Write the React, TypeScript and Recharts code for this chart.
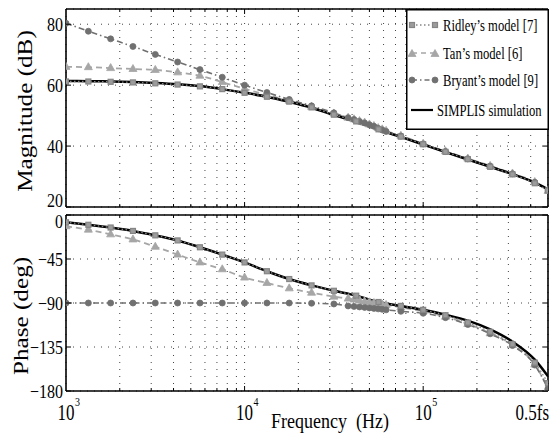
import React from 'react';
import { LineChart, Line, XAxis, YAxis, CartesianGrid, Legend } from 'recharts';

// ---------- data ----------
const FREQ = [1000, 1334, 1778, 2371, 3162, 4217, 5623, 7499, 10000, 13335, 17783, 23714, 31623, 42170, 56234, 74989, 100000, 133352, 177828, 237137, 316228, 421697, 500000];
const DENSE_FREQ = [1000, 1334, 1778, 2371, 3162, 4217, 5623, 7499, 10000, 13335, 17783, 23714, 31623, 38000, 41000, 44000, 47000, 50000, 53000, 56000, 59000, 62000, 74989, 100000, 133352, 177828, 237137, 316228, 421697, 500000];

const SIMPLIS_MAG = [61.4, 61.3, 61.2, 61.0, 60.7, 60.3, 59.7, 58.7, 57.5, 56.2, 54.5, 52.6, 50.2, 48.0, 45.4, 43.0, 40.5, 38.0, 35.6, 33.2, 30.8, 28.0, 25.8];
const SIMPLIS_PHASE = [-7.5, -10, -12.8, -16.3, -20.8, -26, -33, -40.5, -48.5, -57.5, -65.5, -72, -77.5, -82.5, -89, -93, -97, -102, -108, -117, -129.5, -148, -165];

const RIDLEY_MAG = [61.2, 61.2, 61.1, 60.9, 60.6, 60.2, 59.6, 58.7, 57.5, 56.2, 54.6, 52.7, 50.3, 48.1, 45.5, 43.1, 40.6, 38.1, 35.7, 33.2, 30.7, 27.8, 25.4];
const RIDLEY_PHASE = [-7.5, -10, -12.8, -16.3, -20.8, -26, -33, -40.5, -48.5, -57.5, -65.5, -72, -77.5, -82.5, -89, -93, -97, -102.5, -110, -119.5, -132, -151, -172];

const TAN_MAG = [66, 65.9, 65.6, 65.3, 65, 64.2, 63.1, 61, 58.8, 56.8, 54.9, 52.9, 50.7, 49.3, 48.8, 48.2, 47.7, 47.1, 46.6, 45.9, 45.5, 45.0, 43.4, 40.8, 38.3, 35.9, 33.5, 31, 28.2, 25.3];
const TAN_PHASE = [-11.5, -15, -19.8, -25, -32.5, -40.5, -48.5, -55.5, -64, -69.5, -75, -79.5, -83.5, -85.5, -86.5, -87.5, -88.5, -89.3, -90, -90.8, -91.5, -92, -94.5, -98.5, -104, -111.5, -121, -133, -153, -177];

const BRYANT_MAG = [80.3, 77.7, 75.2, 72.7, 70.1, 67.6, 65.1, 62.6, 60.0, 57.6, 55.3, 53.2, 50.9, 49.3, 48.7, 48.1, 47.6, 47.0, 46.5, 45.8, 45.3, 44.8, 43.3, 40.7, 38.2, 35.8, 33.4, 30.9, 28.1, 25.6];
const BRYANT_PHASE = [-90, -90, -90, -90, -90, -90, -90, -90, -90, -90, -90, -90.3, -91, -93, -93.5, -94, -94.5, -95, -95.5, -96, -96.5, -97, -98.5, -100.5, -105, -112, -121.5, -133.5, -153.5, -177.5];

const X_TICKS = [1000, 2000, 3000, 4000, 5000, 6000, 7000, 8000, 9000, 10000, 20000, 30000, 40000, 50000, 60000, 70000, 80000, 90000, 100000, 200000, 300000, 400000, 500000];
const X_MAJOR = [1000, 10000, 100000];
const X_LABEL_VALUES = [1000, 10000, 100000, 500000];
const X_LABEL_TEXT = [['10', '3'], ['10', '4'], ['10', '5'], ['0.5fs', '']];

const MAG_TICKS = [20, 40, 60, 80];
const PHASE_TICKS = [-180, -135, -90, -45, 0];

const SERIES_NAMES = ['Ridley\u2019s model [7]', 'Tan\u2019s model [6]', 'Bryant\u2019s model [9]', 'SIMPLIS simulation'];

// ---------- styles ----------
const FONT = '"Liberation Serif", "Times New Roman", serif';
const C_RIDLEY = '#858585';
const C_TAN = '#a6a6a6';
const C_BRYANT = '#707070';
const PLOT_L = 66;
const PLOT_R = 548;

const mk = (fs: number[], vs: number[]) => fs.map((f, i) => ({ f, v: vs[i] }));

const Square = ({ cx, cy }: any) => (
  <rect x={cx - 2.5} y={cy - 2.5} width={5} height={5} fill="#9c9c9c" stroke={C_RIDLEY} strokeWidth={1.2} />
);
const Tri = ({ cx, cy }: any) => (
  <path d={`M${cx},${cy - 4.5} L${cx + 4},${cy + 2.5} L${cx - 4},${cy + 2.5} Z`} fill={C_TAN} stroke={C_TAN} strokeWidth={0.8} />
);
const Circ = ({ cx, cy }: any) => <circle cx={cx} cy={cy} r={3} fill={C_BRYANT} stroke={C_BRYANT} strokeWidth={0.8} />;

const dotSquare = (p: any) => <Square key={`s${p.index}`} cx={p.cx} cy={p.cy} />;
const dotTri = (p: any) => <Tri key={`t${p.index}`} cx={p.cx} cy={p.cy} />;
const dotCirc = (p: any) => <Circ key={`c${p.index}`} cx={p.cx} cy={p.cy} />;

function XTick(props: any) {
  const { x, payload, plotTop, plotBottom, labels } = props;
  const v = payload.value;
  const major = X_MAJOR.includes(v);
  const len = major ? 5 : 3;
  const edge = v === 500000 || v === 1000;
  const li = X_LABEL_VALUES.indexOf(v);
  return (
    <g>
      {!edge && <line x1={x} x2={x} y1={plotBottom} y2={plotBottom - len} stroke="#000" strokeWidth={1} />}
      {!edge && <line x1={x} x2={x} y1={plotTop} y2={plotTop + len} stroke="#000" strokeWidth={1} />}
      {labels && li >= 0 && (
        <g transform={`translate(${v === 500000 ? x + 1 : x},${plotBottom + 29}) scale(1,1.3)`}>
          <text x={0} y={0} textAnchor={v === 500000 ? 'end' : 'middle'} fontFamily={FONT} fontSize={17} fill="#000">
            {X_LABEL_TEXT[li][0]}
          </text>
          {X_LABEL_TEXT[li][1] && (
            <text x={9} y={-11} textAnchor="start" fontFamily={FONT} fontSize={10} fill="#000">
              {X_LABEL_TEXT[li][1]}
            </text>
          )}
        </g>
      )}
    </g>
  );
}

function YTick(props: any) {
  const { y, payload, shiftFor } = props;
  const v = payload.value;
  const shift = shiftFor[v] ?? 0;
  const txt = v < 0 ? `\u2212${Math.abs(v)}` : `${v}`;
  return (
    <g>
      <line x1={PLOT_L} x2={PLOT_L + 5} y1={y} y2={y} stroke="#000" strokeWidth={1} />
      <line x1={PLOT_R} x2={PLOT_R - 5} y1={y} y2={y} stroke="#000" strokeWidth={1} />
      <g transform={`translate(${PLOT_L - 3},${y + shift}) scale(1,1.2)`}>
        <text x={0} y={0} dy="0.36em" textAnchor="end" fontFamily={FONT} fontSize={16} fill="#000">
          {txt}
        </text>
      </g>
    </g>
  );
}

function LegendBox() {
  const rows = [16, 44, 71, 101];
  return (
    <svg width={143} height={121} style={{ display: 'block' }}>
      <rect x={0.75} y={0.75} width={141.5} height={119.5} fill="#fff" stroke="#000" strokeWidth={1.5} />
      <line x1={6} x2={29} y1={rows[0]} y2={rows[0]} stroke={C_RIDLEY} strokeWidth={1.5} strokeDasharray="1.5 2.5" />
      <Square cx={6} cy={rows[0]} />
      <Square cx={29} cy={rows[0]} />
      <line x1={6} x2={29} y1={rows[1]} y2={rows[1]} stroke={C_TAN} strokeWidth={1.6} strokeDasharray="5 4" />
      <Tri cx={6} cy={rows[1] + 1} />
      <Tri cx={29} cy={rows[1] + 1} />
      <line x1={6} x2={29} y1={rows[2]} y2={rows[2]} stroke={C_BRYANT} strokeWidth={1.5} strokeDasharray="5 3 1.5 3" />
      <Circ cx={6} cy={rows[2]} />
      <Circ cx={29} cy={rows[2]} />
      <line x1={5} x2={27} y1={rows[3]} y2={rows[3]} stroke="#000" strokeWidth={2.2} />
      {SERIES_NAMES.map((n, i) => (
        <g key={n} transform={`translate(${i === 3 ? 31 : 37},${rows[i]}) scale(1,1.35)`}>
          <text x={0} y={0} dy="0.35em" fontFamily={FONT} fontSize={12.6} fill="#000">
            {n}
          </text>
        </g>
      ))}
    </svg>
  );
}

const axisLine = { stroke: '#000', strokeWidth: 1.6 };

export default function App() {
  const magTop = 9;
  const magBottom = 207;
  const phTop = 9;
  const phBottom = 185;
  return (
    <div style={{ position: 'absolute', left: 0, top: 0, width: 549, height: 441, background: '#fff' }}>
      <div style={{ position: 'absolute', left: 0, top: 0 }}>
        <LineChart width={549} height={215} margin={{ top: 0, right: 0, bottom: 0, left: 0 }}>
          <XAxis xAxisId="t" orientation="top" type="number" dataKey="f" scale="log" domain={[1000, 500000]} allowDataOverflow ticks={X_TICKS} tick={false} tickLine={false} axisLine={axisLine} height={9} />
          <XAxis
            xAxisId="b" type="number" dataKey="f" scale="log" domain={[1000, 500000]} allowDataOverflow ticks={X_TICKS} interval={0}
            tickLine={false} axisLine={axisLine} height={8}
            tick={(p: any) => <XTick {...p} plotTop={magTop} plotBottom={magBottom} labels={false} />}
          />
          <YAxis
            yAxisId="l" type="number" domain={[20, 85]} allowDataOverflow ticks={MAG_TICKS} interval={0} width={66} tickLine={false} axisLine={axisLine}
            tick={(p: any) => <YTick {...p} shiftFor={{ 20: -7 }} />}
            label={{
              content: () => (
                <g transform="translate(32,111) rotate(-90) scale(1.2,1)">
                  <text x={0} y={0} textAnchor="middle" fontFamily={FONT} fontSize={21} fill="#000">Magnitude (dB)</text>
                </g>
              ),
            }}
          />
          <YAxis yAxisId="r" orientation="right" type="number" domain={[20, 85]} width={1} tick={false} tickLine={false} axisLine={axisLine} />
          <CartesianGrid xAxisId="b" yAxisId="l" stroke="#444" strokeDasharray="1 6" strokeWidth={1} />
          <Line data={mk(DENSE_FREQ, TAN_MAG)} dataKey="v" xAxisId="b" yAxisId="l" type="monotone" stroke={C_TAN} strokeWidth={1.8} strokeDasharray="6 4" dot={dotTri} activeDot={false} isAnimationActive={false} name={SERIES_NAMES[1]} />
          <Line data={mk(DENSE_FREQ, BRYANT_MAG)} dataKey="v" xAxisId="b" yAxisId="l" type="monotone" stroke={C_BRYANT} strokeWidth={1.6} strokeDasharray="6 3 1.5 3" dot={dotCirc} activeDot={false} isAnimationActive={false} name={SERIES_NAMES[2]} />
          <Line data={mk(FREQ, SIMPLIS_MAG)} dataKey="v" xAxisId="b" yAxisId="l" type="monotone" stroke="#000" strokeWidth={2.5} dot={false} activeDot={false} isAnimationActive={false} name={SERIES_NAMES[3]} />
          <Line data={mk(FREQ, RIDLEY_MAG)} dataKey="v" xAxisId="b" yAxisId="l" type="monotone" stroke={C_RIDLEY} strokeWidth={1.3} strokeDasharray="1.5 2.5" dot={dotSquare} activeDot={false} isAnimationActive={false} name={SERIES_NAMES[0]} />
          <Legend
            layout="vertical" align="center" verticalAlign="middle" width={143} height={121}
            wrapperStyle={{ left: 406, top: 9, right: 'auto', bottom: 'auto', width: 143, height: 121, margin: 0, padding: 0 }}
            content={() => <LegendBox />}
          />
        </LineChart>
      </div>
      <div style={{ position: 'absolute', left: 0, top: 206 }}>
        <LineChart width={549} height={235} margin={{ top: 0, right: 0, bottom: 0, left: 0 }}>
          <XAxis xAxisId="t" orientation="top" type="number" dataKey="f" scale="log" domain={[1000, 500000]} allowDataOverflow ticks={X_TICKS} tick={false} tickLine={false} axisLine={axisLine} height={9} />
          <XAxis
            xAxisId="b" type="number" dataKey="f" scale="log" domain={[1000, 500000]} allowDataOverflow ticks={X_TICKS} interval={0}
            tickLine={false} axisLine={axisLine} height={50}
            tick={(p: any) => <XTick {...p} plotTop={phTop} plotBottom={phBottom} labels={true} />}
            label={{
              content: () => (
                <g transform="translate(330,222) scale(1,1.2)">
                  <text x={0} y={0} textAnchor="middle" fontFamily={FONT} fontSize={18} fill="#000" style={{ whiteSpace: 'pre' }}>{'Frequency  (Hz)'}</text>
                </g>
              ),
            }}
          />
          <YAxis
            yAxisId="l" type="number" domain={[-180, 0]} allowDataOverflow ticks={PHASE_TICKS} interval={0} width={66} tickLine={false} axisLine={axisLine}
            tick={(p: any) => <YTick {...p} shiftFor={{ 0: 6 }} />}
            label={{
              content: () => (
                <g transform="translate(28,110) rotate(-90) scale(1.2,1)">
                  <text x={0} y={0} textAnchor="middle" fontFamily={FONT} fontSize={21} fill="#000">Phase (deg)</text>
                </g>
              ),
            }}
          />
          <YAxis yAxisId="r" orientation="right" type="number" domain={[-180, 0]} width={1} tick={false} tickLine={false} axisLine={axisLine} />
          <CartesianGrid xAxisId="b" yAxisId="l" stroke="#444" strokeDasharray="1 6" strokeWidth={1} />
          <Line data={mk(DENSE_FREQ, TAN_PHASE)} dataKey="v" xAxisId="b" yAxisId="l" type="monotone" stroke={C_TAN} strokeWidth={1.8} strokeDasharray="6 4" dot={dotTri} activeDot={false} isAnimationActive={false} />
          <Line data={mk(DENSE_FREQ, BRYANT_PHASE)} dataKey="v" xAxisId="b" yAxisId="l" type="monotone" stroke={C_BRYANT} strokeWidth={1.6} strokeDasharray="6 3 1.5 3" dot={dotCirc} activeDot={false} isAnimationActive={false} />
          <Line data={mk(FREQ, SIMPLIS_PHASE)} dataKey="v" xAxisId="b" yAxisId="l" type="monotone" stroke="#000" strokeWidth={2.5} dot={false} activeDot={false} isAnimationActive={false} />
          <Line data={mk(FREQ, RIDLEY_PHASE)} dataKey="v" xAxisId="b" yAxisId="l" type="monotone" stroke={C_RIDLEY} strokeWidth={1.3} strokeDasharray="1.5 2.5" dot={dotSquare} activeDot={false} isAnimationActive={false} />
        </LineChart>
      </div>
    </div>
  );
}
